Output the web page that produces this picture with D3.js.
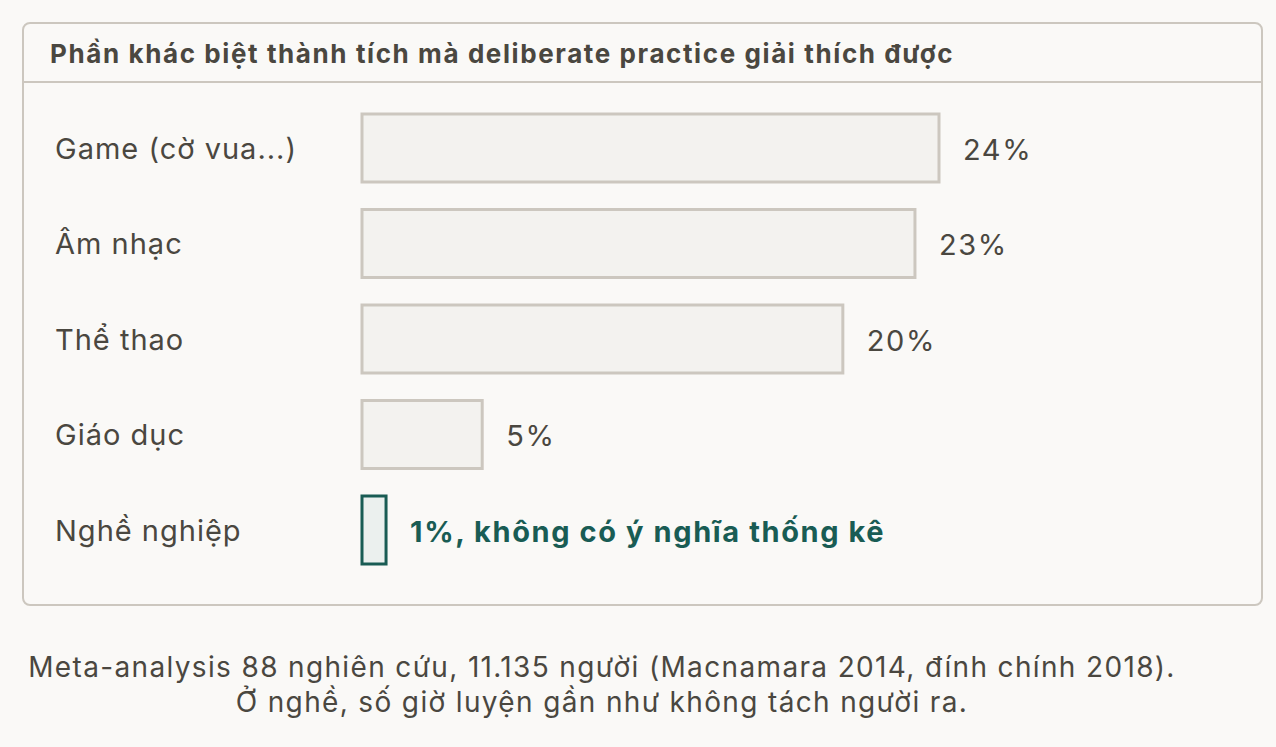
<!DOCTYPE html>
<html>
<head>
<meta charset="utf-8">
<script src="https://cdn.jsdelivr.net/npm/d3@7"></script>
<style>
  html, body { margin: 0; padding: 0; background: #faf9f7; }
  svg { display: block; font-family: Inter, "Noto Sans", sans-serif; }
</style>
</head>
<body>
<svg id="chart" width="1276" height="747"></svg>
<script>
// Data
const categories = ["Game (cờ vua...)", "Âm nhạc", "Thể thao", "Giáo dục", "Nghề nghiệp"];
const values = [24, 23, 20, 5, 1];
const valueLabels = ["24%", "23%", "20%", "5%", "1%, không có ý nghĩa thống kê"];
const highlighted = [false, false, false, false, true];
const title = "Phần khác biệt thành tích mà deliberate practice giải thích được";
const footnote = [
    "Meta-analysis 88 nghiên cứu, 11.135 người (Macnamara 2014, đính chính 2018).",
    "Ở nghề, số giờ luyện gần như không tách người ra."
];

const svg = d3.select("#chart");

// Card
svg.append("rect")
    .attr("x", 23).attr("y", 23)
    .attr("width", 1239).attr("height", 582)
    .attr("rx", 7)
    .attr("fill", "#faf9f7")
    .attr("stroke", "#ccc7bf")
    .attr("stroke-width", 2);

svg.append("line")
    .attr("x1", 23).attr("x2", 1262)
    .attr("y1", 82).attr("y2", 82)
    .attr("stroke", "#ccc7bf")
    .attr("stroke-width", 2);

svg.append("text")
    .attr("x", 50).attr("y", 63)
    .attr("fill", "#4a4740")
    .attr("font-size", 26)
    .attr("font-weight", 700)
    .attr("letter-spacing", 1.6)
    .text(title);

// Scales
const x = d3.scaleLinear().domain([0, 24]).range([362, 939]);
const y = d3.scaleBand()
    .domain(categories)
    .range([114, 564])
    .paddingInner(0.288)
    .paddingOuter(0);

const data = categories.map((c, i) => ({ cat: c, value: values[i], label: valueLabels[i], hi: highlighted[i] }));

const rows = svg.append("g").selectAll("g")
    .data(data)
    .enter().append("g");

rows.append("text")
    .attr("x", 55)
    .attr("y", d => y(d.cat) + y.bandwidth() / 2)
    .attr("dy", "0.37em")
    .attr("fill", "#4a4740")
    .attr("font-size", 29)
    .attr("letter-spacing", 1)
    .text(d => d.cat);

rows.append("rect")
    .attr("x", x(0))
    .attr("y", d => y(d.cat))
    .attr("width", d => x(d.value) - x(0))
    .attr("height", y.bandwidth())
    .attr("fill", d => d.hi ? "#ebf0ee" : "#f3f2ef")
    .attr("stroke", d => d.hi ? "#195c54" : "#ccc7bf")
    .attr("stroke-width", 3);

rows.append("text")
    .attr("x", d => x(d.value) + 24)
    .attr("y", d => y(d.cat) + y.bandwidth() / 2)
    .attr("dy", "0.4em")
    .attr("fill", d => d.hi ? "#195c54" : "#4a4740")
    .attr("font-size", 29)
    .attr("font-weight", d => d.hi ? 700 : 400)
    .attr("letter-spacing", d => d.hi ? 1.6 : 1.6)
    .text(d => d.label);

// Footnote
svg.append("g").selectAll("text")
    .data(footnote)
    .enter().append("text")
    .attr("x", 602)
    .attr("y", (d, i) => 677 + i * 35)
    .attr("text-anchor", "middle")
    .attr("fill", "#4a4740")
    .attr("font-size", 28)
    .attr("letter-spacing", 1.35)
    .text(d => d);
</script>
</body>
</html>
